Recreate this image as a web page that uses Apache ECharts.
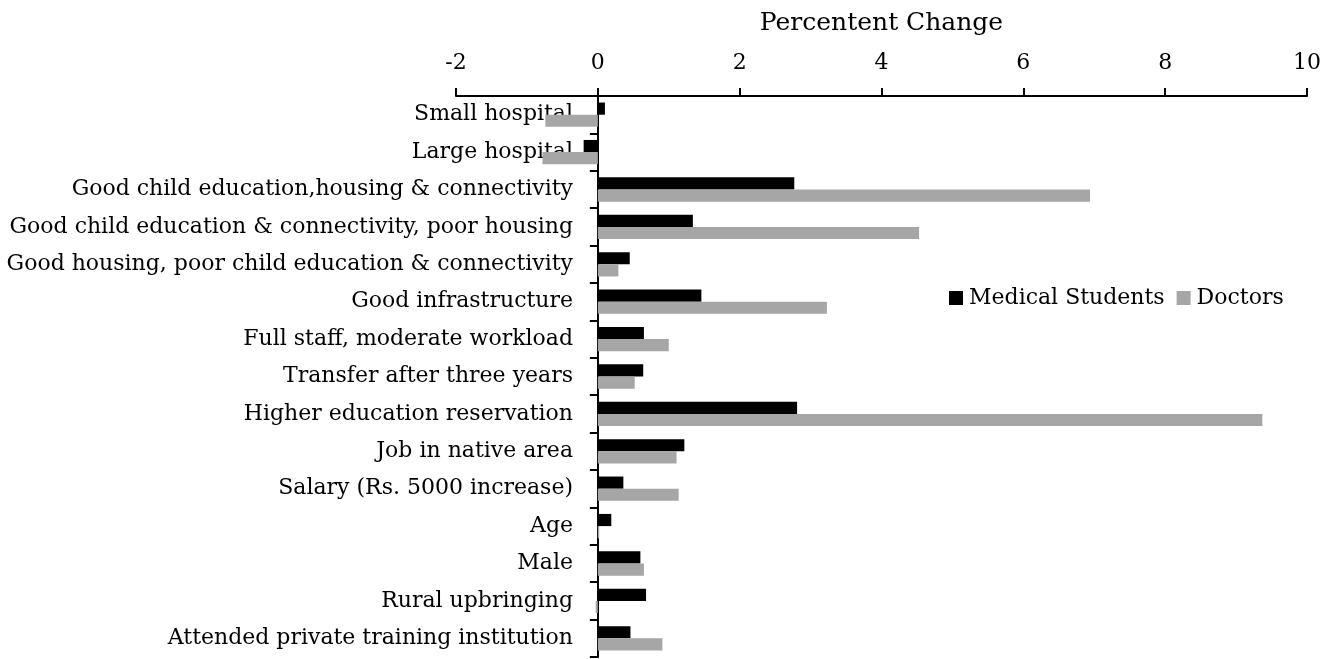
<!DOCTYPE html>
<html>
<head>
<meta charset="utf-8">
<script src="https://cdn.jsdelivr.net/npm/echarts@6/dist/echarts.min.js"></script>
<style>
html,body{margin:0;padding:0;background:#fff;}
#chart{width:1334px;height:659px;}
</style>
</head>
<body>
<div id="chart"></div>
<script>
const categories = [
  "Small hospital",
  "Large hospital",
  "Good child education,housing & connectivity",
  "Good child education & connectivity, poor housing",
  "Good housing, poor child education & connectivity",
  "Good infrastructure",
  "Full staff, moderate workload",
  "Transfer after three years",
  "Higher education reservation",
  "Job in native area",
  "Salary (Rs. 5000 increase)",
  "Age",
  "Male",
  "Rural upbringing",
  "Attended private training institution"
];
const medicalStudents = [0.1, -0.2, 2.77, 1.34, 0.45, 1.46, 0.65, 0.64, 2.81, 1.22, 0.36, 0.19, 0.6, 0.68, 0.46];
const doctors = [-0.74, -0.78, 6.94, 4.53, 0.29, 3.23, 1.0, 0.52, 9.37, 1.11, 1.14, 0.02, 0.65, -0.03, 0.91];
const xTicks = { min: -2, max: 10, interval: 2 };
const seriesNames = ["Medical Students", "Doctors"];

const FONT = "DejaVu Serif";
const chart = echarts.init(document.getElementById('chart'));
chart.setOption({
  animation: false,
  backgroundColor: '#fff',
  grid: { left: 456, right: 27, top: 96, bottom: 2, containLabel: false, outerBoundsMode: 'none' },
  legend: {
    data: seriesNames,
    left: 944, top: 282,
    icon: 'rect', itemWidth: 14, itemHeight: 14, itemGap: 12,
    textStyle: { fontFamily: FONT, fontSize: 22, color: '#000', padding: [0, 0, 0, 1] }
  },
  xAxis: {
    type: 'value', position: 'top',
    min: xTicks.min, max: xTicks.max, interval: xTicks.interval,
    name: 'Percentent Change', nameLocation: 'middle', nameGap: 60,
    nameTextStyle: { fontFamily: FONT, fontSize: 25, color: '#000' },
    axisLine: { show: true, lineStyle: { color: '#000', width: 2 } },
    axisTick: { show: true, length: 8, lineStyle: { color: '#000', width: 2 } },
    axisLabel: { fontFamily: FONT, fontSize: 22, color: '#000', margin: 22 },
    splitLine: { show: false }
  },
  yAxis: {
    type: 'category', inverse: true, data: categories,
    axisLine: { show: true, onZero: true, lineStyle: { color: '#000', width: 2 } },
    axisTick: { show: true, length: 8, lineStyle: { color: '#000', width: 2 } },
    axisLabel: { fontFamily: FONT, fontSize: 22, color: '#000', margin: -117 },
    splitLine: { show: false }
  },
  series: [
    { name: seriesNames[0], type: 'bar', data: medicalStudents, itemStyle: { color: '#000000' },
      barGap: '0%', barCategoryGap: '35%' },
    { name: seriesNames[1], type: 'bar', data: doctors, itemStyle: { color: '#a6a6a6' },
      barGap: '0%', barCategoryGap: '35%' }
  ]
});
</script>
</body>
</html>
